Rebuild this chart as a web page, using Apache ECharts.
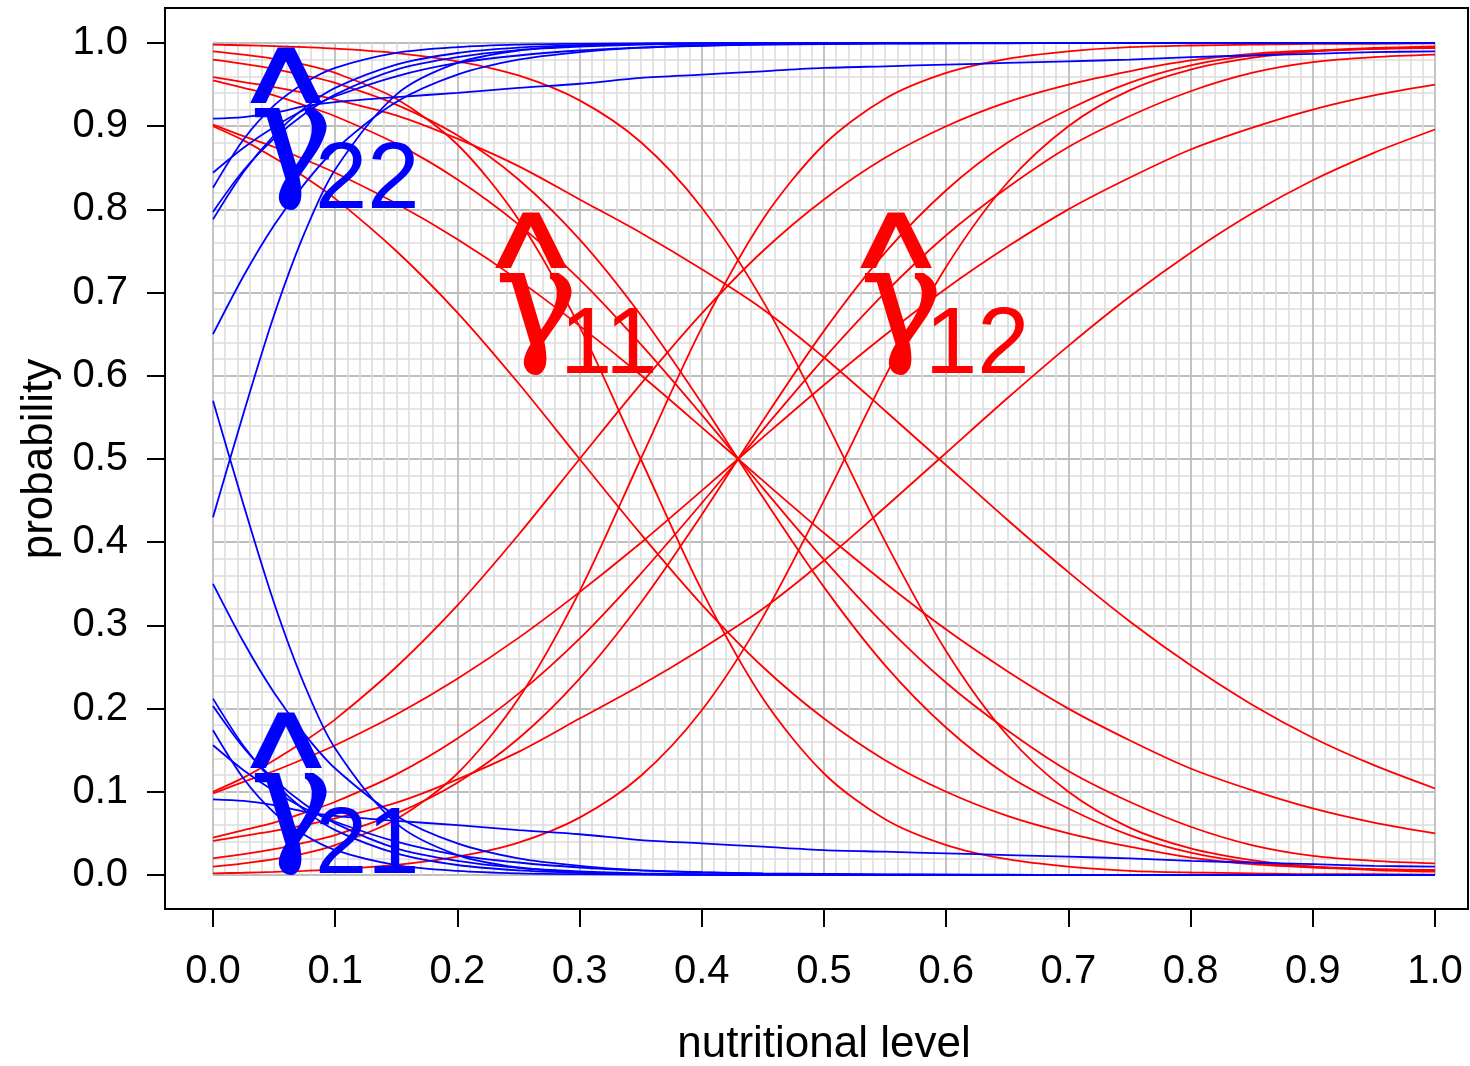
<!DOCTYPE html>
<html><head><meta charset="utf-8">
<script src="https://cdn.jsdelivr.net/npm/echarts@6/dist/echarts.min.js"></script>
<style>html,body{margin:0;padding:0;background:#fff}#c{width:1470px;height:1066px}</style>
</head><body><div id="c"></div><script>
// x positions (nutritional level) at which the curves were read
const xs = [0, 0.025, 0.05, 0.075, 0.1, 0.15, 0.2, 0.25, 0.3, 0.35, 0.4, 0.45, 0.5, 0.55, 0.6, 0.65, 0.7, 0.75, 0.8, 0.85, 0.9, 0.95, 1.0];

const xTickLabels = ['0.0','0.1','0.2','0.3','0.4','0.5','0.6','0.7','0.8','0.9','1.0'];
const yTickLabels = ['0.0','0.1','0.2','0.3','0.4','0.5','0.6','0.7','0.8','0.9','1.0'];

// gamma11 (red, decreasing)
const g11_1 = [0.998, 0.9973, 0.9963, 0.995, 0.9933, 0.9879, 0.978, 0.961, 0.931, 0.881, 0.802, 0.690, 0.550, 0.401, 0.269, 0.168, 0.100, 0.057, 0.032, 0.018, 0.010, 0.006, 0.004];
const g11_2 = [0.959, 0.953, 0.947, 0.940, 0.932, 0.913, 0.885, 0.852, 0.812, 0.772, 0.728, 0.680, 0.622, 0.558, 0.4925, 0.427, 0.364, 0.305, 0.252, 0.205, 0.165, 0.132, 0.104];
const g11_3 = [0.902, 0.888, 0.875, 0.860, 0.844, 0.807, 0.764, 0.715, 0.660, 0.601, 0.538, 0.474, 0.411, 0.351, 0.295, 0.245, 0.200, 0.162, 0.128, 0.102, 0.080, 0.063, 0.050];
const g11_4 = [0.955, 0.946, 0.937, 0.925, 0.912, 0.879, 0.836, 0.782, 0.716, 0.638, 0.553, 0.465, 0.379, 0.300, 0.231, 0.174, 0.125, 0.088, 0.058, 0.036, 0.023, 0.017, 0.014];
const g11_5 = [0.980, 0.975, 0.969, 0.961, 0.952, 0.926, 0.889, 0.836, 0.764, 0.673, 0.567, 0.454, 0.346, 0.252, 0.177, 0.120, 0.080, 0.048, 0.027, 0.015, 0.010, 0.007, 0.0056];
const g11_6 = [0.900, 0.883, 0.862, 0.839, 0.813, 0.750, 0.676, 0.591, 0.500, 0.410, 0.325, 0.250, 0.188, 0.138, 0.100, 0.071, 0.050, 0.034, 0.021, 0.013, 0.009, 0.007, 0.006];
const g11_7 = [0.990, 0.986, 0.981, 0.974, 0.964, 0.933, 0.878, 0.788, 0.659, 0.500, 0.342, 0.212, 0.122, 0.067, 0.036, 0.019, 0.010, 0.005, 0.003, 0.002, 0.001, 0.001, 0.0005];

// gamma12 (red, increasing)
const g12_1 = [0.002, 0.0027, 0.0037, 0.005, 0.0067, 0.0121, 0.022, 0.039, 0.069, 0.119, 0.198, 0.310, 0.450, 0.599, 0.731, 0.832, 0.900, 0.943, 0.968, 0.982, 0.990, 0.994, 0.996];
const g12_2 = [0.041, 0.047, 0.053, 0.060, 0.068, 0.087, 0.115, 0.148, 0.188, 0.228, 0.272, 0.320, 0.378, 0.442, 0.5075, 0.573, 0.636, 0.695, 0.748, 0.795, 0.835, 0.868, 0.896];
const g12_3 = [0.098, 0.112, 0.125, 0.140, 0.156, 0.193, 0.236, 0.285, 0.340, 0.399, 0.462, 0.526, 0.589, 0.649, 0.705, 0.755, 0.800, 0.838, 0.872, 0.898, 0.920, 0.937, 0.950];
const g12_4 = [0.045, 0.054, 0.063, 0.075, 0.088, 0.121, 0.164, 0.218, 0.284, 0.362, 0.447, 0.535, 0.621, 0.700, 0.769, 0.826, 0.875, 0.912, 0.942, 0.964, 0.977, 0.983, 0.986];
const g12_5 = [0.020, 0.025, 0.031, 0.039, 0.048, 0.074, 0.111, 0.164, 0.236, 0.327, 0.433, 0.546, 0.654, 0.748, 0.823, 0.880, 0.920, 0.952, 0.973, 0.985, 0.990, 0.993, 0.9944];
const g12_6 = [0.100, 0.117, 0.138, 0.161, 0.187, 0.250, 0.324, 0.409, 0.500, 0.590, 0.675, 0.750, 0.812, 0.862, 0.900, 0.929, 0.950, 0.966, 0.979, 0.987, 0.991, 0.993, 0.994];
const g12_7 = [0.010, 0.014, 0.019, 0.026, 0.036, 0.067, 0.122, 0.212, 0.341, 0.500, 0.658, 0.788, 0.878, 0.933, 0.964, 0.981, 0.990, 0.995, 0.997, 0.998, 0.999, 0.999, 0.9995];

// gamma22 (blue, increasing)
const g22_1 = [0.909, 0.911, 0.916, 0.924, 0.929, 0.935, 0.940, 0.946, 0.951, 0.958, 0.962, 0.966, 0.970, 0.972, 0.974, 0.976, 0.978, 0.980, 0.983, 0.985, 0.987, 0.989, 0.990];
const g22_2 = [0.844, 0.874, 0.899, 0.920, 0.936, 0.960, 0.976, 0.985, 0.991, 0.9945, 0.9966, 0.998, 0.9987, 0.9992, 0.9995, 0.9997, 0.9998, 0.9999, 0.9999, 1, 1, 1, 1];
const g22_3 = [0.826, 0.884, 0.925, 0.952, 0.970, 0.988, 0.995, 0.998, 0.999, 0.9996, 0.9998, 0.9999, 1, 1, 1, 1, 1, 1, 1, 1, 1, 1, 1];
const g22_4 = [0.797, 0.847, 0.885, 0.915, 0.938, 0.968, 0.983, 0.9914, 0.9956, 0.998, 0.999, 0.9995, 0.9997, 0.9998, 0.9999, 1, 1, 1, 1, 1, 1, 1, 1];
const g22_5 = [0.788, 0.845, 0.889, 0.922, 0.946, 0.974, 0.988, 0.9944, 0.9974, 0.9988, 0.9995, 0.9998, 0.9999, 1, 1, 1, 1, 1, 1, 1, 1, 1, 1];
const g22_6 = [0.650, 0.720, 0.781, 0.831, 0.872, 0.929, 0.962, 0.980, 0.989, 0.9944, 0.997, 0.9984, 0.9991, 0.9995, 0.9997, 0.9998, 0.9999, 1, 1, 1, 1, 1, 1];
const g22_7 = [0.430, 0.555, 0.673, 0.772, 0.848, 0.938, 0.976, 0.991, 0.9967, 0.9988, 0.9996, 0.9998, 0.9999, 1, 1, 1, 1, 1, 1, 1, 1, 1, 1];

// gamma21 (blue, decreasing)
const g21_1 = [0.091, 0.089, 0.084, 0.076, 0.071, 0.065, 0.060, 0.054, 0.049, 0.042, 0.038, 0.034, 0.030, 0.028, 0.026, 0.024, 0.022, 0.020, 0.017, 0.015, 0.013, 0.011, 0.010];
const g21_2 = [0.156, 0.126, 0.101, 0.080, 0.064, 0.040, 0.024, 0.015, 0.009, 0.0055, 0.0034, 0.002, 0.0013, 0.0008, 0.0005, 0.0003, 0.0002, 0.0001, 0.0001, 0, 0, 0, 0];
const g21_3 = [0.174, 0.116, 0.075, 0.048, 0.030, 0.012, 0.005, 0.002, 0.001, 0.0004, 0.0002, 0.0001, 0, 0, 0, 0, 0, 0, 0, 0, 0, 0, 0];
const g21_4 = [0.203, 0.153, 0.115, 0.085, 0.062, 0.032, 0.017, 0.0086, 0.0044, 0.002, 0.001, 0.0005, 0.0003, 0.0002, 0.0001, 0, 0, 0, 0, 0, 0, 0, 0];
const g21_5 = [0.212, 0.155, 0.111, 0.078, 0.054, 0.026, 0.012, 0.0056, 0.0026, 0.0012, 0.0005, 0.0002, 0.0001, 0, 0, 0, 0, 0, 0, 0, 0, 0, 0];
const g21_6 = [0.350, 0.280, 0.219, 0.169, 0.128, 0.071, 0.038, 0.020, 0.011, 0.0056, 0.003, 0.0016, 0.0009, 0.0005, 0.0003, 0.0002, 0.0001, 0, 0, 0, 0, 0, 0];
const g21_7 = [0.570, 0.445, 0.327, 0.228, 0.152, 0.062, 0.024, 0.009, 0.0033, 0.0012, 0.0004, 0.0002, 0.0001, 0, 0, 0, 0, 0, 0, 0, 0, 0, 0];

const RED = '#FF0000', BLUE = '#0000FF';
const redCurves = [g11_1, g11_2, g11_3, g11_4, g11_5, g11_6, g11_7, g12_1, g12_2, g12_3, g12_4, g12_5, g12_6, g12_7];
const blueCurves = [g22_1, g22_2, g22_3, g22_4, g22_5, g22_6, g22_7, g21_1, g21_2, g21_3, g21_4, g21_5, g21_6, g21_7];

// annotation anchors (data coords: left of gamma, baseline of subscript)
const annotations = [
  { sub: '11', color: RED,  x: 0.2349, y: 0.601 },
  { sub: '12', color: RED,  x: 0.5336, y: 0.601 },
  { sub: '22', color: BLUE, x: 0.0344, y: 0.7993 },
  { sub: '21', color: BLUE, x: 0.0344, y: 0.0 }
];

function mk(vals, color) {
  return {
    type: 'line', xAxisIndex: 0, yAxisIndex: 0,
    data: xs.map((x, i) => [x, vals[i]]),
    showSymbol: false, symbol: 'none', smooth: 0.3,
    lineStyle: { width: 1.8, color: color }, itemStyle: { color: color },
    silent: true, animation: false, clip: true
  };
}

const chart = echarts.init(document.getElementById('c'), null, { renderer: 'canvas', width: 1470, height: 1066 });
const FONT = '"Liberation Sans", Arial, Helvetica, sans-serif';

const series = [];
redCurves.forEach(v => series.push(mk(v, RED)));
blueCurves.forEach(v => series.push(mk(v, BLUE)));

const tickStyle = { show: true, length: 18, inside: false, lineStyle: { color: '#000', width: 2 } };

chart.setOption({
  backgroundColor: '#ffffff',
  animation: false,
  grid: [
    { left: 213, top: 43, width: 1222, height: 832, containLabel: false, outerBoundsMode: 'none' },  // data area
    { left: 213, top: 43, width: 1222, height: 866, containLabel: false, outerBoundsMode: 'none' },  // x ticks on frame
    { left: 165, top: 43, width: 1270, height: 832, containLabel: false, outerBoundsMode: 'none' }   // y ticks on frame
  ],
  xAxis: [
    { gridIndex: 0, type: 'value', min: 0, max: 1, interval: 0.1,
      axisLine: { show: false }, axisTick: { show: false }, axisLabel: { show: false },
      minorTick: { show: false, splitNumber: 10 },
      splitLine: { show: true, lineStyle: { color: '#bebebe', width: 1.8 } },
      minorSplitLine: { show: true, lineStyle: { color: '#dcdcdc', width: 1.6 } } },
    { gridIndex: 1, type: 'value', min: 0, max: 1, interval: 0.1, position: 'bottom',
      axisLine: { show: false }, axisTick: tickStyle,
      axisLabel: { color: '#000', fontSize: 40, fontFamily: FONT, margin: 43,
        formatter: v => xTickLabels[Math.round(v * 10)] },
      splitLine: { show: false } },
    { gridIndex: 2, type: 'value', min: 0, max: 1, show: false }
  ],
  yAxis: [
    { gridIndex: 0, type: 'value', min: 0, max: 1, interval: 0.1,
      axisLine: { show: false }, axisTick: { show: false }, axisLabel: { show: false },
      minorTick: { show: false, splitNumber: 5 },
      splitLine: { show: true, lineStyle: { color: '#bebebe', width: 1.8 } },
      minorSplitLine: { show: true, lineStyle: { color: '#dcdcdc', width: 1.6 } } },
    { gridIndex: 1, type: 'value', min: 0, max: 1, show: false },
    { gridIndex: 2, type: 'value', min: 0, max: 1, interval: 0.1, position: 'left',
      axisLine: { show: false }, axisTick: tickStyle,
      axisLabel: { color: '#000', fontSize: 40, fontFamily: FONT, margin: 37,
        formatter: v => yTickLabels[Math.round(v * 10)] },
      splitLine: { show: false } }
  ],
  series: series
});

const graphics = [
  { type: 'rect', shape: { x: 165, y: 8, width: 1303, height: 901 },
    style: { fill: 'none', stroke: '#000', lineWidth: 2 }, z: 100, silent: true },
  { type: 'text', x: 824, y: 1045, z: 100, silent: true,
    style: { text: 'nutritional level', font: '44px ' + FONT, fill: '#000', textAlign: 'center', textVerticalAlign: 'middle' } },
  { type: 'text', x: 40, y: 459, rotation: Math.PI / 2, z: 100, silent: true,
    style: { text: 'probability', font: '44px ' + FONT, fill: '#000', textAlign: 'center', textVerticalAlign: 'middle' } }
];

annotations.forEach(a => {
  const p = chart.convertToPixel({ xAxisIndex: 0, yAxisIndex: 0 }, [a.x, a.y]);
  const ax = p[0], ay = p[1];
  // gamma
  graphics.push({ type: 'text', x: ax - 4, y: ay - 64, z: 110, silent: true,
    style: { text: 'γ', font: '136px "DejaVu Serif", serif', fill: a.color,
      stroke: a.color, lineWidth: 2, textAlign: 'left', textVerticalAlign: 'middle' } });
  // hat
  graphics.push({ type: 'text', x: ax + 31, y: ay - 52 - 0.3465 * 142, z: 110, silent: true,
    style: { text: '^', font: '142px ' + FONT, fill: a.color, stroke: a.color, lineWidth: 4,
      textAlign: 'center', textVerticalAlign: 'middle' } });
  // subscript
  graphics.push({ type: 'text', x: ax + 60, y: ay - 28, z: 110, silent: true,
    style: { text: a.sub, font: '94px ' + FONT, fill: a.color, textAlign: 'left', textVerticalAlign: 'middle' } });
});

chart.setOption({ graphic: graphics });
</script></body></html>
